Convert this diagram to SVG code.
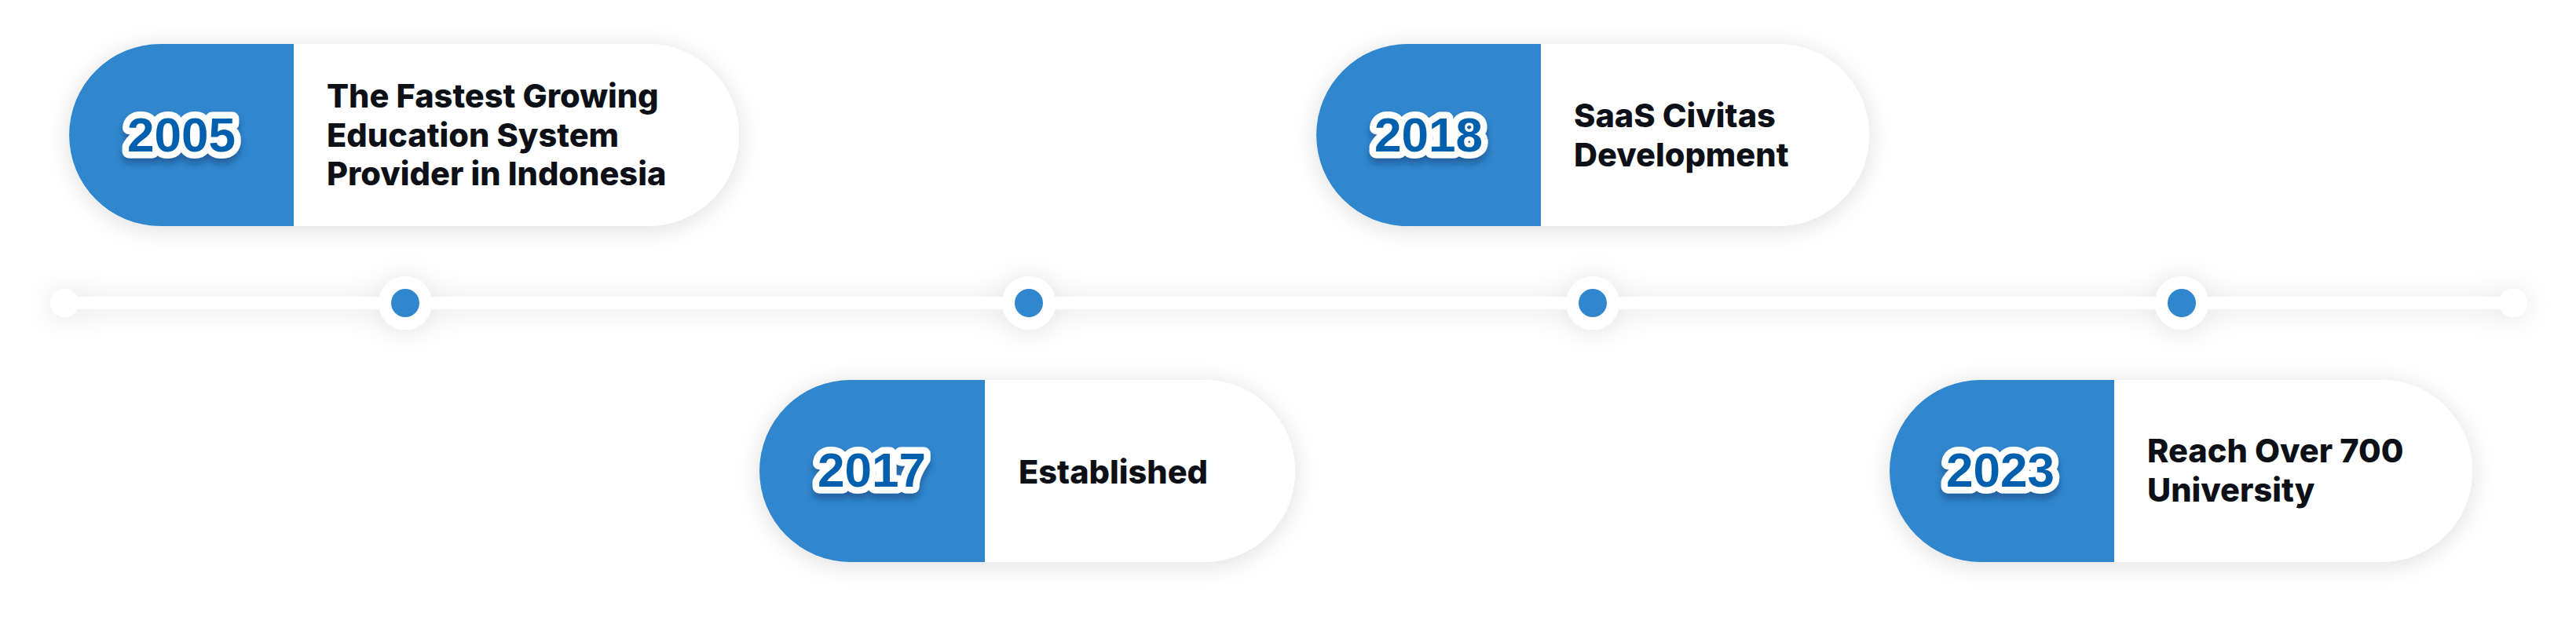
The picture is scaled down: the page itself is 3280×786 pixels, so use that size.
<svg xmlns="http://www.w3.org/2000/svg" width="3280" height="786" viewBox="0 0 3280 786">
  <defs>
    <filter id="softShadow" x="-20%" y="-40%" width="140%" height="180%">
      <feDropShadow dx="0" dy="4" stdDeviation="16" flood-color="#000000" flood-opacity="0.13"/>
    </filter>
    <filter id="lineShadow" x="-5%" y="-300%" width="110%" height="700%">
      <feDropShadow dx="0" dy="2" stdDeviation="18" flood-color="#000000" flood-opacity="0.12"/>
    </filter>
    <filter id="yearShadow" x="-30%" y="-50%" width="160%" height="220%">
      <feDropShadow dx="0" dy="7" stdDeviation="5" flood-color="#0B3F78" flood-opacity="0.55"/>
    </filter>
  </defs>
  <style>
    .pill { fill: #ffffff; }
    .band { fill: #3187CE; }
    .year { font-family: "Liberation Sans", Arial, sans-serif; font-weight: 700; font-size: 62px; fill: #0561AD; stroke: #ffffff; stroke-width: 17px; stroke-linejoin: round; paint-order: stroke fill; text-anchor: middle; }
    .label { font-family: Inter, "Noto Sans", sans-serif; font-weight: 800; font-size: 41.5px; fill: #0D1117; }
    .track { stroke: #ffffff; stroke-width: 16; }
    .cap { fill: #ffffff; }
    .ring { fill: #ffffff; }
    .dot { fill: #3187CE; }
  </style>
  <rect width="3280" height="786" fill="#ffffff"/>

  <g id="connectors">
    <g filter="url(#lineShadow)">
      <line class="track" x1="82" y1="386" x2="3200" y2="386"/>
      <circle class="cap" cx="82" cy="386" r="18"/>
      <circle class="cap" cx="3200" cy="386" r="18"/>
      <circle class="ring" cx="516" cy="386" r="34"/>
      <circle class="ring" cx="1310" cy="386" r="34"/>
      <circle class="ring" cx="2028" cy="386" r="34"/>
      <circle class="ring" cx="2778" cy="386" r="34"/>
    </g>
    <circle class="dot" cx="516" cy="386" r="18"/>
    <circle class="dot" cx="1310" cy="386" r="18"/>
    <circle class="dot" cx="2028" cy="386" r="18"/>
    <circle class="dot" cx="2778" cy="386" r="18"/>
  </g>

  <g id="node-2005">
    <rect class="pill" x="88" y="56" width="853" height="232" rx="116" filter="url(#softShadow)"/>
    <path class="band" d="M204 56 H374 V288 H204 A116 116 0 0 1 204 56 Z"/>
    <text class="year" x="231" y="193" filter="url(#yearShadow)">2005</text>
    <text class="label" x="416" y="137">The Fastest Growing</text>
    <text class="label" x="416" y="187">Education System</text>
    <text class="label" x="416" y="236">Provider in Indonesia</text>
  </g>

  <g id="node-2017">
    <rect class="pill" x="967" y="484" width="682" height="232" rx="116" filter="url(#softShadow)"/>
    <path class="band" d="M1083 484 H1254 V716 H1083 A116 116 0 0 1 1083 484 Z"/>
    <text class="year" x="1110" y="620" filter="url(#yearShadow)">2017</text>
    <text class="label" x="1297" y="616">Established</text>
  </g>

  <g id="node-2018">
    <rect class="pill" x="1676" y="56" width="704" height="232" rx="116" filter="url(#softShadow)"/>
    <path class="band" d="M1792 56 H1962 V288 H1792 A116 116 0 0 1 1792 56 Z"/>
    <text class="year" x="1819" y="193" filter="url(#yearShadow)">2018</text>
    <text class="label" x="2004" y="162">SaaS Civitas</text>
    <text class="label" x="2004" y="212">Development</text>
  </g>

  <g id="node-2023">
    <rect class="pill" x="2406" y="484" width="742" height="232" rx="116" filter="url(#softShadow)"/>
    <path class="band" d="M2522 484 H2692 V716 H2522 A116 116 0 0 1 2522 484 Z"/>
    <text class="year" x="2547" y="620" filter="url(#yearShadow)">2023</text>
    <text class="label" x="2734" y="589">Reach Over 700</text>
    <text class="label" x="2734" y="639">University</text>
  </g>
</svg>
